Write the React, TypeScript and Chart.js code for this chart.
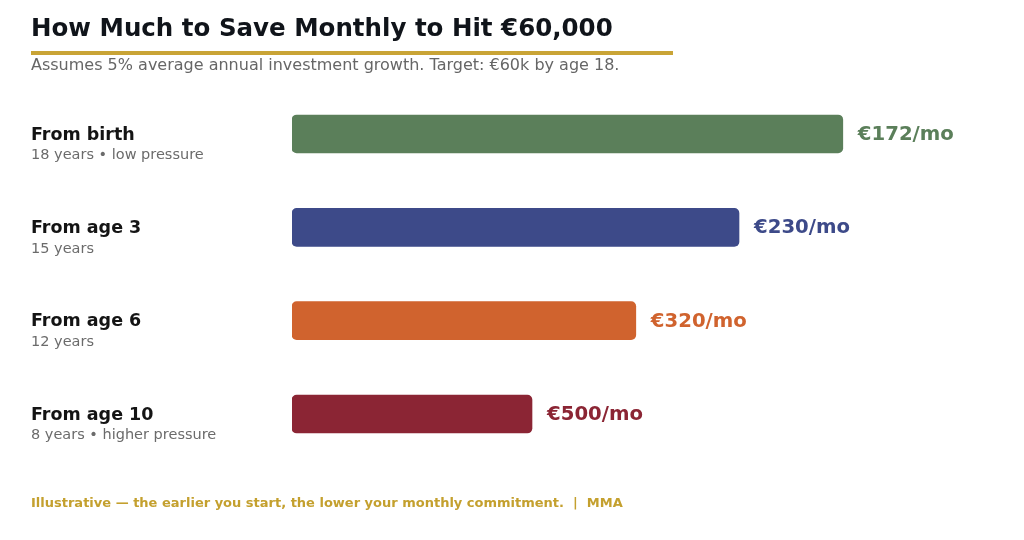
import React, { useEffect, useRef } from "react";
import { Chart, registerables } from "chart.js";

Chart.register(...registerables);

const titleText = "How Much to Save Monthly to Hit €60,000";
const subtitleText = "Assumes 5% average annual investment growth. Target: €60k by age 18.";
const footerText = "Illustrative — the earlier you start, the lower your monthly commitment.  |  MMA";

const categories = ["From birth", "From age 3", "From age 6", "From age 10"];
const subLabels = ["18 years • low pressure", "15 years", "12 years", "8 years • higher pressure"];
const monthlyLabels = ["€172/mo", "€230/mo", "€320/mo", "€500/mo"];
const barLengths = [91.8, 74.5, 57.3, 40];
const barColors = ["#5B7F5A", "#3D4A89", "#D0632E", "#8B2534"];

const FONT = "'DejaVu Sans', sans-serif";

const overlayPlugin = {
  id: "overlay",
  afterDraw(chart: any) {
    const ctx = chart.ctx as CanvasRenderingContext2D;
    const yScale = chart.scales.y;
    const meta = chart.getDatasetMeta(0);
    ctx.save();
    // Title
    ctx.textAlign = "left";
    ctx.textBaseline = "middle";
    ctx.fillStyle = "#10141A";
    ctx.font = `bold 24.5px ${FONT}`;
    ctx.fillText(titleText, 31, 29.5);
    // gold rule
    ctx.fillStyle = "#C9A436";
    ctx.fillRect(31, 51, 642, 4);
    // subtitle
    ctx.fillStyle = "#666666";
    ctx.font = `16px ${FONT}`;
    ctx.fillText(subtitleText, 31, 66);

    categories.forEach((c, i) => {
      const y = yScale.getPixelForValue(i);
      ctx.fillStyle = "#141414";
      ctx.font = `bold 17.5px ${FONT}`;
      ctx.fillText(c, 31, y + 1);
      ctx.fillStyle = "#6B6B6B";
      ctx.font = `14.5px ${FONT}`;
      ctx.fillText(subLabels[i], 31, y + 21.5);
      const bar = meta.data[i];
      ctx.fillStyle = barColors[i];
      ctx.font = `bold 19.7px ${FONT}`;
      ctx.fillText(monthlyLabels[i], bar.x + 15, y + 1);
    });

    ctx.fillStyle = "#C4A02E";
    ctx.font = `bold 13px ${FONT}`;
    ctx.fillText(footerText, 31, 504);
    ctx.restore();
  },
};

export default function App() {
  const ref = useRef<HTMLCanvasElement | null>(null);
  useEffect(() => {
    document.body.style.margin = "0";
    const chart = new Chart(ref.current!, {
      type: "bar",
      data: {
        labels: categories,
        datasets: [
          {
            data: barLengths,
            backgroundColor: barColors,
            borderRadius: 5,
            borderSkipped: false,
            barThickness: 38,
          },
        ],
      },
      options: {
        indexAxis: "y",
        animation: false,
        responsive: false,
        layout: { padding: { left: 292, right: 132, top: 87.3, bottom: 79.3 } },
        plugins: { legend: { display: false }, tooltip: { enabled: false }, title: { display: false } },
        scales: {
          x: { display: false, min: 0, max: 100 },
          y: { display: false },
        },
      },
      plugins: [overlayPlugin],
    });
    return () => chart.destroy();
  }, []);
  return (
    <div style={{ width: 1024, height: 540, background: "#fff" }}>
      <canvas ref={ref} width={1024} height={540} style={{ display: "block" }} />
    </div>
  );
}
